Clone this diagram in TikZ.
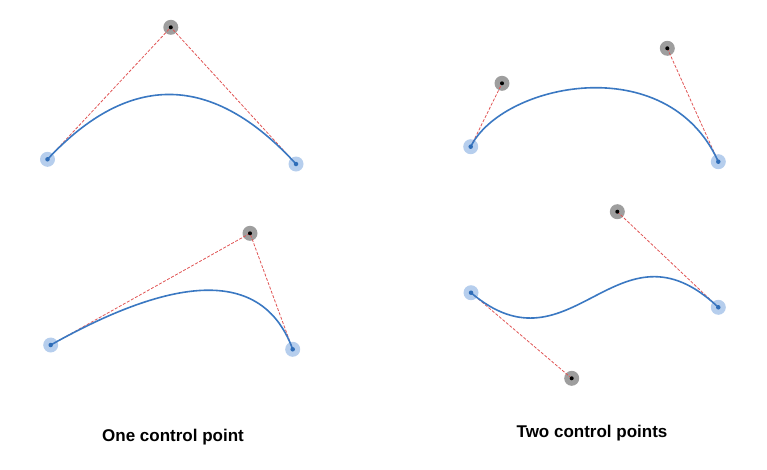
\documentclass[tikz,border=0pt]{standalone}
\usepackage{fontspec}
\setmainfont{Liberation Sans}
\usetikzlibrary{calc}
\definecolor{curveblue}{HTML}{3A78C2}
\definecolor{ptblue}{HTML}{2F6DB8}
\definecolor{haloblue}{HTML}{A9C6EA}
\definecolor{halogray}{HTML}{9E9E9E}
\definecolor{guidered}{HTML}{E05555}
\tikzset{
  guide/.style={draw=guidered, line width=0.8pt, dash pattern=on 3pt off 1.6pt},
  bez/.style={draw=curveblue, line width=1.6pt},
  endpt/.style={circle, inner sep=0pt, minimum size=4.5pt, fill=ptblue},
  ctrlpt/.style={circle, inner sep=0pt, minimum size=4pt, fill=black},
  captext/.style={font=\fontsize{17}{20}\selectfont\bfseries, anchor=base, inner sep=0pt}
}
\newcommand{\ephalo}[1]{\fill[haloblue, opacity=0.85] (#1) circle (7.5pt);}
\newcommand{\cphalo}[1]{\fill[halogray] (#1) circle (7.5pt);}
\begin{document}
\begin{tikzpicture}[x=1pt,y=-1pt]
\useasboundingbox (0,0) rectangle (767,469);
% panel 1: quadratic
\coordinate (a0) at (47.5,159.3);
\coordinate (ac) at (170.8,27.3);
\coordinate (a2) at (296,164);
% panel 2: cubic
\coordinate (b0) at (470.7,146.7);
\coordinate (b1) at (502,83.3);
\coordinate (b2) at (667.3,48.3);
\coordinate (b3) at (718.3,161.7);
% panel 3: quadratic
\coordinate (c0) at (50.7,345);
\coordinate (cc) at (250,233.3);
\coordinate (c2) at (292.7,349.3);
% panel 4: cubic
\coordinate (d0) at (471,292.7);
\coordinate (d1) at (571.7,378.3);
\coordinate (d2) at (617.3,211.7);
\coordinate (d3) at (718.3,307.3);

% halos
\ephalo{a0}\ephalo{a2}\cphalo{ac}
\ephalo{b0}\ephalo{b3}\cphalo{b1}\cphalo{b2}
\ephalo{c0}\ephalo{c2}\cphalo{cc}
\ephalo{d0}\ephalo{d3}\cphalo{d1}\cphalo{d2}

% guide lines
\draw[guide] (a0) -- (ac) -- (a2);
\draw[guide] (b0) -- (b1);
\draw[guide] (b2) -- (b3);
\draw[guide] (c0) -- (cc) -- (c2);
\draw[guide] (d0) -- (d1);
\draw[guide] (d2) -- (d3);

% curves
\draw[bez] (a0) .. controls ($(a0)!2/3!(ac)$) and ($(a2)!2/3!(ac)$) .. (a2);
\draw[bez] (b0) .. controls (b1) and (b2) .. (b3);
\draw[bez] (c0) .. controls ($(c0)!2/3!(cc)$) and ($(c2)!2/3!(cc)$) .. (c2);
\draw[bez] (d0) .. controls (d1) and (d2) .. (d3);

% points
\node[endpt] (A0) at (a0) {};
\node[endpt] (A2) at (a2) {};
\node[ctrlpt] (AC) at (ac) {};
\node[endpt] (B0) at (b0) {};
\node[endpt] (B3) at (b3) {};
\node[ctrlpt] (B1) at (b1) {};
\node[ctrlpt] (B2) at (b2) {};
\node[endpt] (C0) at (c0) {};
\node[endpt] (C2) at (c2) {};
\node[ctrlpt] (CC) at (cc) {};
\node[endpt] (D0) at (d0) {};
\node[endpt] (D3) at (d3) {};
\node[ctrlpt] (D1) at (d1) {};
\node[ctrlpt] (D2) at (d2) {};

% captions
\node[captext] (cap1) at (173,441.5) {One control point};
\node[captext] (cap2) at (592,437.5) {Two control points};
\end{tikzpicture}
\end{document}
